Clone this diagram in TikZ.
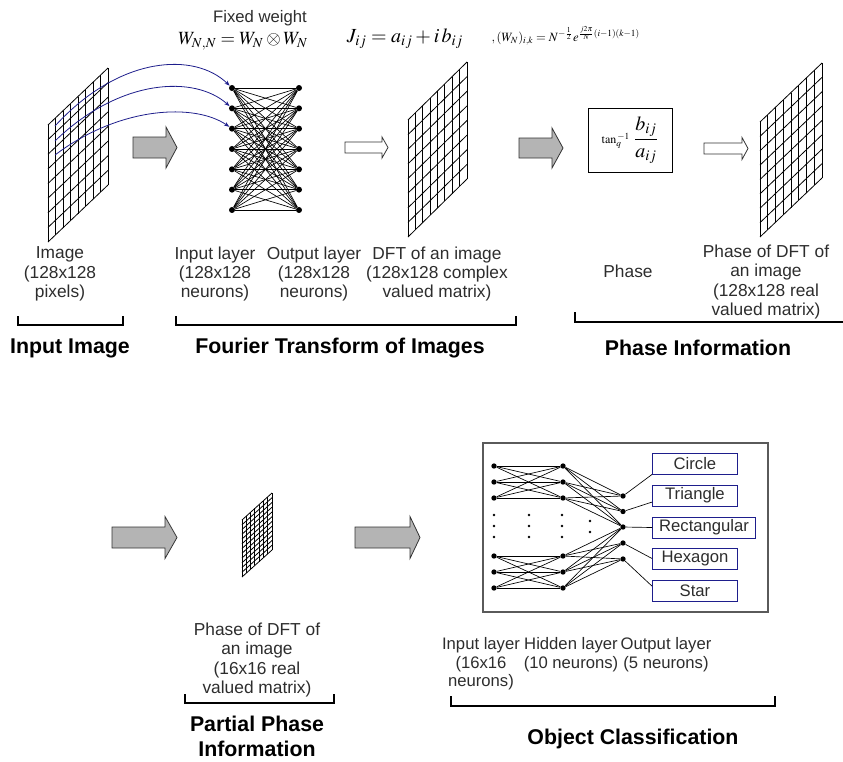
\documentclass[tikz,border=0pt]{standalone}
\usepackage{amsmath}
\usepackage{mathptmx}
\usepackage[no-math]{fontspec}
\setmainfont{Liberation Sans}
\usetikzlibrary{arrows.meta}
\usetikzlibrary{calc}
\definecolor{arrowgray}{RGB}{180,180,180}
\definecolor{linknavy}{RGB}{30,30,140}
\definecolor{framegray}{RGB}{90,90,90}
\definecolor{labelgray}{RGB}{45,45,45}
\tikzset{
	gridline/.style={line width=0.6pt},
	neuron/.style={circle,fill,inner sep=0pt,minimum size=4.5pt},
	smallneuron/.style={circle,fill,inner sep=0pt,minimum size=4pt},
	ellipsisdot/.style={circle,fill,inner sep=0pt,minimum size=2.2pt},
	wire/.style={line width=0.5pt},
	link/.style={linknavy,line width=0.6pt,-{Stealth[length=4pt,width=3pt]}},
	grayblock/.style={draw=black!80,fill=arrowgray,line width=0.6pt},
	whiteblock/.style={draw=black!80,fill=white,line width=0.6pt},
	lbl/.style={align=center,text=labelgray,font=\fontsize{13}{14.6}\selectfont},
	title/.style={align=center,font=\fontsize{16}{18.75}\selectfont\bfseries},
	bracket/.style={line width=2.2pt},
	classbox/.style={draw=linknavy,anchor=west,line width=0.7pt,minimum width=63.75pt,minimum height=15.75pt,inner xsep=5pt,inner ysep=0pt,text=labelgray,font=\fontsize{12.5}{14}\selectfont}
}
\newcommand{\drawgrid}[8]{
	\foreach \gc in {0,...,#6} \draw[gridline] ({#1+\gc*#3/#6},{#2-\gc*#5/#6}) -- ++(0,#4);
	\foreach \gr in {0,...,#7} \draw[gridline] (#1,{#2+\gr*#4/#7}) -- ++(#3,-#5);
	\coordinate (#8) at ({#1+#3/2},{#2+#4/2-#5/2});
}
\newcommand{\drawblockarrow}[7]{
	\coordinate (#1) at #2;
	\draw[#7] #2 ++(0,-#5) -- ++({#3-#4},0) -- ++(0,{#5-#6}) -- ++(#4,#6) -- ++(-#4,#6) -- ++(0,{#5-#6}) -- ++({#4-#3},0) -- cycle;
}

\begin{document}
\begin{tikzpicture}[x=0.75pt,y=-0.75pt]
	\useasboundingbox (0,0) rectangle (843,761);
	\draw (260,18) node (fixed) [lbl,font=\fontsize{12.5}{14}\selectfont] {Fixed weight};
	\draw (243,41) node (wnn) [font=\fontsize{14}{16}\selectfont] {$W_{N,N}=W_N\otimes W_N$};
	\draw (405,39) node (jij) [font=\fontsize{15}{17}\selectfont] {$J_{ij}=a_{ij}+i\,b_{ij}$};
	\draw (487,36) node (wik) [anchor=west,font=\fontsize{9.5}{11}\selectfont] {$,(W_N)_{i,k}=N^{-\frac{1}{2}}e^{\frac{j2\pi}{N}(i-1)(k-1)}$};
	\drawgrid{48}{125}{60}{117}{57}{8}{8}{g1}
	\drawgrid{408}{120}{59}{117}{58}{8}{8}{g2}
	\drawgrid{760}{122}{62}{115}{59}{8}{8}{g3}
	\drawgrid{242}{520}{30}{57}{27}{7}{12}{g4}
	\drawblockarrow{ga1}{(133,147.5)}{44}{11}{10.5}{20.5}{grayblock}
	\drawblockarrow{wa1}{(345,147.5)}{43}{6}{5.5}{10.5}{whiteblock}
	\drawblockarrow{ga2}{(519,148)}{44}{11}{10}{20}{grayblock}
	\drawblockarrow{wa2}{(704,148.5)}{44}{6}{5.5}{11}{whiteblock}
	\drawblockarrow{ga3}{(112,537.5)}{65}{12}{10.5}{21}{grayblock}
	\drawblockarrow{ga4}{(355,537.5)}{65}{10}{10.5}{21}{grayblock}
	\foreach \i in {1,...,7} {
		\draw (232,{88+20.33*(\i-1)}) node (in\i) [neuron] {};
		\draw (299,{88+20.33*(\i-1)}) node (on\i) [neuron] {};
	}
	\foreach \i in {1,...,7} \foreach \j in {1,...,7} \draw[wire] (in\i) -- (on\j);
	\foreach \i/\ys/\yc in {1/126/55,2/141/78,3/155/106} {
		\coordinate (src\i) at (55,\ys);
		\draw[link] (src\i) .. controls (120,\yc) and (195,\yc-3) .. (in\i);
	}
	\draw (630,140) node (phbox) [draw,line width=0.6pt,minimum width=63pt,minimum height=48pt] {{\fontsize{9}{9}\selectfont$\tan_{q}^{\,-1}$}\;{\fontsize{15}{15}\selectfont$\dfrac{b_{ij}}{a_{ij}}$}};
	\draw (60,274) node (imglbl) [lbl] {Image\\(128x128\\pixels)};
	\draw (215,274) node (inlbl) [lbl] {Input layer\\(128x128\\neurons)};
	\draw (314,274) node (outlbl) [lbl] {Output layer\\(128x128\\neurons)};
	\draw (437,274) node (dftlbl) [lbl] {DFT of an image\\(128x128 complex\\valued matrix)};
	\draw (628,271) node (phlbl) [lbl] {Phase};
	\draw (766,282) node (phdftlbl) [lbl] {Phase of DFT of\\an image\\(128x128 real\\valued matrix)};
	\draw[bracket] (18,316) |- (123,325) -- (123,316);
	\draw[bracket] (176,316) |- (516,325) -- (516,316);
	\draw[bracket] (575,312) |- (843,322);
	\draw (70,348) node (ttlinput) [title] {Input Image};
	\draw (340,348) node (ttlfourier) [title] {Fourier Transform of Images};
	\draw (698,348) node (ttlphase) [title] {Phase Information};
	\draw (257,660) node (pphlbl) [lbl] {Phase of DFT of\\an image\\(16x16 real\\valued matrix)};
	\draw[bracket] (185,694) |- (334,703) -- (334,694);
	\draw (257,736) node (ttlpartial) [title] {Partial Phase\\Information};
	\draw[framegray,line width=1pt] (483,443) rectangle (768,612);
	\foreach \i/\y in {1/466,2/482,3/498,4/556,5/572,6/588} {
		\draw (494,\y) node (ci\i) [smallneuron] {};
		\draw (563,\y) node (ch\i) [smallneuron] {};
	}
	\foreach \i/\y in {1/496,2/511.5,3/527,4/543,5/559} \draw (623,\y) node (co\i) [smallneuron] {};
	\foreach \x in {494,529,562} \foreach \y in {515,526,537} \draw (\x,\y) node [ellipsisdot] {};
	\foreach \y in {521,532} \draw (590,\y) node [ellipsisdot] {};
	\foreach \i in {1,2,3} \foreach \j in {1,2,3} \draw[wire] (ci\i) -- (ch\j);
	\foreach \i in {4,5,6} \foreach \j in {4,5,6} \draw[wire] (ci\i) -- (ch\j);
	\foreach \i in {1,2,3} \foreach \j in {1,2,3} \draw[wire] (ch\i) -- (co\j);
	\foreach \i in {4,5,6} \foreach \j in {3,4,5} \draw[wire] (ch\i) -- (co\j);
	\foreach \i/\txt/\y in {1/Circle/463.5,2/Triangle/495.5,3/Rectangular/527.5,4/Hexagon/558.5,5/Star/590.5} \draw (652,\y) node (cls\i) [classbox] {\txt};
	\draw[wire] (co1) -- (cls1.south west);
	\draw[wire] (co2) -- ($(cls2.south west)!0.2!(cls2.north west)$);
	\draw[wire] (co3) -- (cls3.west);
	\draw[wire] (co4) -- (cls4.west);
	\draw[wire] (co5) -- ($(cls5.west)!0.4!(cls5.north west)$);
	\draw (481,664) node (cinlbl) [lbl,font=\fontsize{12.5}{14}\selectfont] {Input layer\\(16x16\\neurons)};
	\draw (571,655) node (chidlbl) [lbl,font=\fontsize{12.5}{14}\selectfont] {Hidden layer\\(10 neurons)};
	\draw (666,655) node (coutlbl) [lbl,font=\fontsize{12.5}{14}\selectfont] {Output layer\\(5 neurons)};
	\draw[bracket] (451,696) |- (775,706) -- (775,696);
	\draw (633,739) node (ttlobject) [title] {Object Classification};
\end{tikzpicture}
\end{document}
